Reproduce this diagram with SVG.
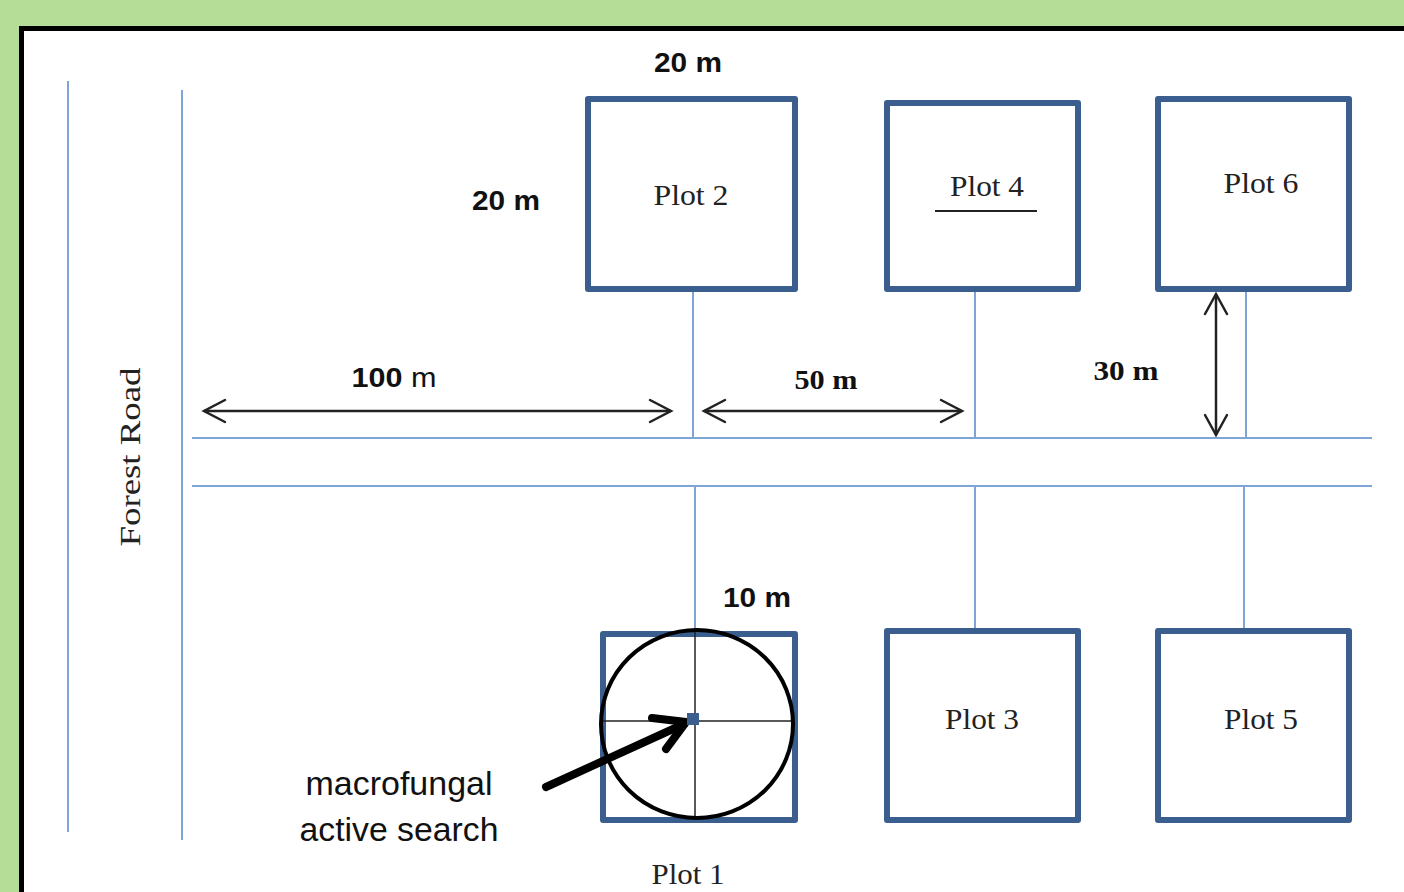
<svg xmlns="http://www.w3.org/2000/svg" width="1404" height="892" viewBox="0 0 1404 892">
<style>
.plot{fill:#fff;stroke:#3a5f8f;stroke-width:6;stroke-linejoin:round}
.thin{stroke:#7fa5d6;stroke-width:2;fill:none}
.dim{stroke:#222;stroke-width:2.5;fill:none}
.head{stroke:#222;stroke-width:2.5;fill:none;stroke-linecap:round}
.lbl{font-family:"Liberation Serif",serif;font-size:30px;fill:#222;text-anchor:middle}
.sb{font-family:"Liberation Sans",sans-serif;font-weight:bold;font-size:28px;fill:#111;text-anchor:middle}
.tb{font-family:"Liberation Serif",serif;font-weight:bold;font-size:28px;fill:#111;text-anchor:middle}
.sn{font-family:"Liberation Sans",sans-serif;font-size:33px;fill:#111;text-anchor:middle}
</style>
<rect x="0" y="0" width="1404" height="892" fill="#b5dd97"/>
<rect x="21.5" y="28.5" width="1400" height="900" fill="#fff" stroke="#000" stroke-width="5"/>
<g id="connectors">
<line class="thin" x1="68" y1="81" x2="68" y2="832"/>
<line class="thin" x1="182" y1="90" x2="182" y2="840"/>
<line class="thin" x1="192" y1="438" x2="1372" y2="438"/>
<line class="thin" x1="192" y1="486" x2="1372" y2="486"/>
<line class="thin" x1="693" y1="289" x2="693" y2="438"/>
<line class="thin" x1="975" y1="289" x2="975" y2="438"/>
<line class="thin" x1="1246" y1="289" x2="1246" y2="438"/>
<line class="thin" x1="695" y1="486" x2="695" y2="632"/>
<line class="thin" x1="975" y1="486" x2="975" y2="630"/>
<line class="thin" x1="1244" y1="486" x2="1244" y2="630"/>
</g>
<g id="dimensions">
<line class="dim" x1="204" y1="411" x2="671" y2="411"/>
<polyline class="head" points="225,400 204,411 225,422"/>
<polyline class="head" points="650,400 671,411 650,422"/>
<line class="dim" x1="704" y1="411" x2="962" y2="411"/>
<polyline class="head" points="725,400 704,411 725,422"/>
<polyline class="head" points="941,400 962,411 941,422"/>
<line class="dim" x1="1216" y1="294" x2="1216" y2="435"/>
<polyline class="head" points="1205,314 1216,294 1227,314"/>
<polyline class="head" points="1205,415 1216,435 1227,415"/>
</g>
<g id="plot2"><rect class="plot" x="588" y="99" width="207" height="190"/><text class="lbl" x="691" y="205" textLength="75" lengthAdjust="spacingAndGlyphs">Plot 2</text></g>
<g id="plot4"><rect class="plot" x="887" y="103" width="191" height="186"/><text class="lbl" x="987" y="196" textLength="74" lengthAdjust="spacingAndGlyphs">Plot 4</text><line x1="935" y1="211" x2="1037" y2="211" stroke="#222" stroke-width="2"/></g>
<g id="plot6"><rect class="plot" x="1158" y="99" width="191" height="190"/><text class="lbl" x="1261" y="193" textLength="75" lengthAdjust="spacingAndGlyphs">Plot 6</text></g>
<g id="plot3"><rect class="plot" x="887" y="631" width="191" height="189"/><text class="lbl" x="982" y="729" textLength="74" lengthAdjust="spacingAndGlyphs">Plot 3</text></g>
<g id="plot5"><rect class="plot" x="1158" y="631" width="191" height="189"/><text class="lbl" x="1261" y="729" textLength="74" lengthAdjust="spacingAndGlyphs">Plot 5</text></g>
<g id="plot1">
<rect class="plot" x="603" y="634" width="192" height="186"/>
<line x1="602" y1="721" x2="794" y2="721" stroke="#222" stroke-width="1.5"/>
<line x1="695" y1="632" x2="695" y2="820" stroke="#222" stroke-width="1.5"/>
<ellipse cx="697" cy="724" rx="96" ry="94" fill="none" stroke="#000" stroke-width="4"/>
<text class="lbl" x="688" y="884" textLength="73" lengthAdjust="spacingAndGlyphs">Plot 1</text>
</g>
<g id="pointer">
<line x1="546" y1="787" x2="684" y2="724" stroke="#000" stroke-width="8" stroke-linecap="round"/>
<polyline points="652,718 686,722 666,749" fill="none" stroke="#000" stroke-width="8" stroke-linecap="round" stroke-linejoin="round"/>
<rect x="687" y="713" width="12" height="12" fill="#3a5f8f"/>
<text class="sn" x="399" y="795" textLength="187" lengthAdjust="spacingAndGlyphs">macrofungal</text>
<text class="sn" x="399" y="841" textLength="199" lengthAdjust="spacingAndGlyphs">active search</text>
</g>
<g id="labels">
<text class="sb" x="688" y="72" textLength="68" lengthAdjust="spacingAndGlyphs">20 m</text>
<text class="sb" x="506" y="210" textLength="68" lengthAdjust="spacingAndGlyphs">20 m</text>
<text class="sb" x="757" y="607" textLength="68" lengthAdjust="spacingAndGlyphs">10 m</text>
<text x="394" y="387" font-family="Liberation Sans,sans-serif" font-size="28" fill="#111" text-anchor="middle" textLength="85" lengthAdjust="spacingAndGlyphs"><tspan font-weight="bold">100</tspan> m</text>
<text class="tb" x="826" y="389" textLength="63" lengthAdjust="spacingAndGlyphs">50 m</text>
<text class="tb" x="1126" y="380" textLength="65" lengthAdjust="spacingAndGlyphs">30 m</text>
<text class="lbl" font-size="34" transform="translate(140,457) rotate(-90)" textLength="179" lengthAdjust="spacingAndGlyphs">Forest Road</text>
</g>
</svg>
